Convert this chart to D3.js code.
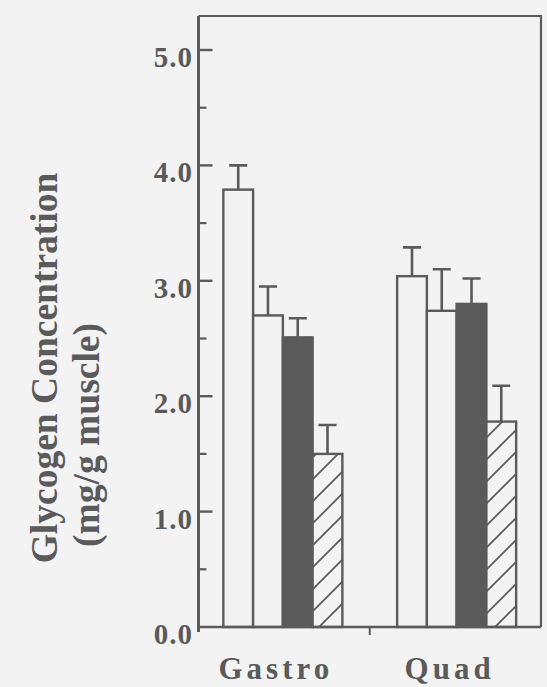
<!DOCTYPE html>
<html>
<head>
<meta charset="utf-8">
<script src="https://cdn.jsdelivr.net/npm/d3@7"></script>
<style>
  html, body { margin: 0; padding: 0; background: #f3f3f3; }
  svg { display: block; }
  text { font-family: "Liberation Serif", "Times New Roman", serif; font-weight: bold; fill: #5a5a5a; }
</style>
</head>
<body>
<svg id="chart" width="547" height="687"></svg>
<script>
// Muscle groups and the four treatment series
const muscles = ["Gastro", "Quad"];
const series = ["s1", "s2", "s3", "s4"];
const seriesStyle = ["open", "open", "solid", "hatch"];

// Mean glycogen (mg/g muscle), one value per muscle in each series
const meanS1 = [3.79, 3.04];
const meanS2 = [2.70, 2.74];
const meanS3 = [2.51, 2.80];
const meanS4 = [1.50, 1.78];

// Upper end of each error bar (mean + SE)
const upperS1 = [4.00, 3.29];
const upperS2 = [2.95, 3.10];
const upperS3 = [2.675, 3.02];
const upperS4 = [1.75, 2.09];

// Axis ticks
const yMajorTicks = [0, 1, 2, 3, 4, 5];
const yMinorTicks = [0.5, 1.5, 2.5, 3.5, 4.5];

const means = [meanS1, meanS2, meanS3, meanS4];
const uppers = [upperS1, upperS2, upperS3, upperS4];

const ink = "#5a5a5a";
const paper = "#f3f3f3";

const svg = d3.select("#chart");
const frame = { left: 198.5, right: 541, top: 16, bottom: 627 };

const y = d3.scaleLinear().domain([0, 5]).range([frame.bottom, 50]);
const x0 = d3.scaleBand().domain(muscles)
  .range([frame.left, frame.right])
  .paddingInner(0.315).paddingOuter(0.143);
const x1 = d3.scaleBand().domain(series).range([0, x0.bandwidth()]).padding(0);

// diagonal hatch fill
const defs = svg.append("defs");
const pat = defs.append("pattern")
  .attr("id", "hatch").attr("patternUnits", "userSpaceOnUse")
  .attr("width", 22).attr("height", 22);
pat.append("rect").attr("width", 22).attr("height", 22).attr("fill", paper);
pat.append("path")
  .attr("d", "M-2,24 L24,-2 M-13,13 L13,-13 M9,35 L35,9")
  .attr("stroke", ink).attr("stroke-width", 1.7).attr("fill", "none");

// frame (top and right sides)
svg.append("path")
  .attr("d", `M${frame.left},${frame.top} H${frame.right} V${frame.bottom}`)
  .attr("fill", "none").attr("stroke", ink).attr("stroke-width", 2.2);

// bars
const data = [];
muscles.forEach((m, i) => {
  series.forEach((s, j) => {
    data.push({ muscle: m, series: s, style: seriesStyle[j], mean: means[j][i], upper: uppers[j][i] });
  });
});

const g = svg.append("g");
g.selectAll("rect.bar").data(data).join("rect")
  .attr("class", "bar")
  .attr("x", d => x0(d.muscle) + x1(d.series))
  .attr("y", d => y(d.mean))
  .attr("width", x1.bandwidth())
  .attr("height", d => y(0) - y(d.mean))
  .attr("fill", d => d.style === "solid" ? ink : d.style === "hatch" ? "url(#hatch)" : paper)
  .attr("stroke", ink).attr("stroke-width", 2.4);

// error bars: stem plus cap
const capHalf = 9;
g.selectAll("path.err").data(data).join("path")
  .attr("class", "err")
  .attr("d", d => {
    const cx = x0(d.muscle) + x1(d.series) + x1.bandwidth() / 2;
    return `M${cx},${y(d.mean)} V${y(d.upper)} M${cx - capHalf},${y(d.upper)} H${cx + capHalf}`;
  })
  .attr("fill", "none").attr("stroke", ink).attr("stroke-width", 2.6);

// y axis with inward ticks
const yAxis = svg.append("g");
yAxis.append("line")
  .attr("x1", frame.left).attr("x2", frame.left)
  .attr("y1", frame.top).attr("y2", frame.bottom + 5)
  .attr("stroke", ink).attr("stroke-width", 3);
yAxis.selectAll("line.major").data(yMajorTicks.filter(v => v > 0)).join("line")
  .attr("class", "major")
  .attr("x1", frame.left).attr("x2", frame.left + 14)
  .attr("y1", d => y(d)).attr("y2", d => y(d))
  .attr("stroke", ink).attr("stroke-width", 2.4);
yAxis.selectAll("line.minor").data(yMinorTicks).join("line")
  .attr("class", "minor")
  .attr("x1", frame.left).attr("x2", frame.left + 8)
  .attr("y1", d => y(d)).attr("y2", d => y(d))
  .attr("stroke", ink).attr("stroke-width", 2.2);
yAxis.selectAll("text").data(yMajorTicks).join("text")
  .attr("x", 193)
  .attr("y", d => y(d) + 17)
  .attr("text-anchor", "end")
  .style("font-size", "29px")
  .style("letter-spacing", "1px")
  .text(d => d3.format(".1f")(d));

// x axis
const xAxis = svg.append("g");
xAxis.append("line")
  .attr("x1", frame.left).attr("x2", frame.right)
  .attr("y1", frame.bottom).attr("y2", frame.bottom)
  .attr("stroke", ink).attr("stroke-width", 2.6);
// divider tick between the two muscle groups
const mid = (x0("Gastro") + x0.bandwidth() + x0("Quad")) / 2;
xAxis.append("line")
  .attr("x1", mid).attr("x2", mid)
  .attr("y1", frame.bottom).attr("y2", frame.bottom + 8)
  .attr("stroke", ink).attr("stroke-width", 2);
xAxis.selectAll("text").data(muscles).join("text")
  .attr("x", d => x0(d) + x0.bandwidth() / 2 - 7)
  .attr("y", 678.5)
  .attr("text-anchor", "middle")
  .style("font-size", "31px")
  .style("letter-spacing", "4px")
  .text(d => d);

// y axis title, two lines
const title = svg.append("g");
title.append("text")
  .attr("transform", "translate(56.5,368) rotate(-90)")
  .attr("text-anchor", "middle")
  .style("font-size", "37.5px")
  .text("Glycogen Concentration");
title.append("text")
  .attr("transform", "translate(98.5,435) rotate(-90)")
  .attr("text-anchor", "middle")
  .style("font-size", "37.5px")
  .text("(mg/g muscle)");
</script>
</body>
</html>
